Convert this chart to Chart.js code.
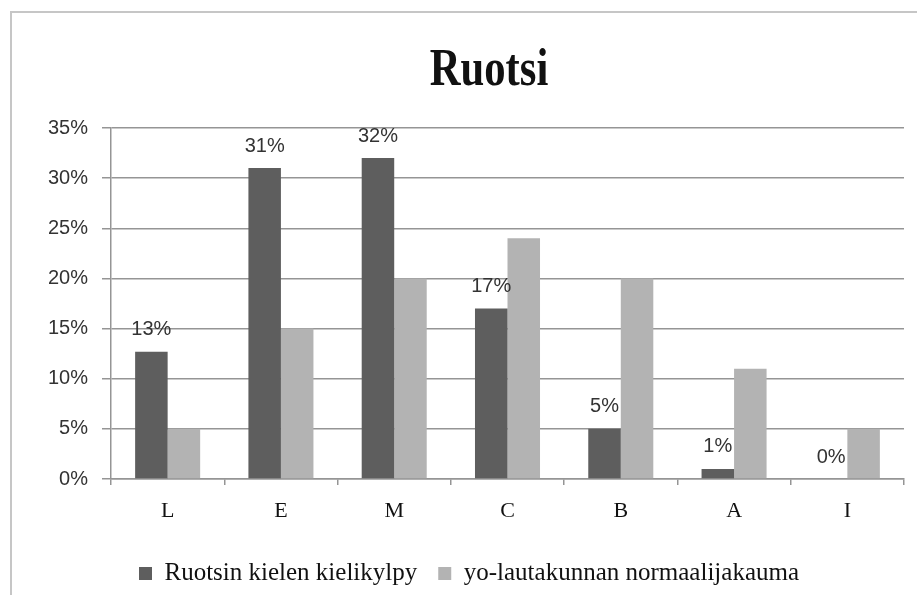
<!DOCTYPE html>
<html>
<head>
<meta charset="utf-8">
<title>Ruotsi</title>
<script src="https://cdn.jsdelivr.net/npm/chart.js@4.4.1/dist/chart.umd.min.js"></script>
<style>
  html, body { margin: 0; padding: 0; background: #fff; overflow: hidden; }
  #frame {
    position: absolute; left: 10px; top: 11px; width: 1000px; height: 700px;
    border-left: 2px solid #c6c6c6; border-top: 2px solid #c6c6c6;
  }
  #wrap { position: absolute; left: 0; top: 0; width: 914px; height: 610px; }
</style>
</head>
<body>
<div id="frame"><div id="wrap"><canvas id="chart"></canvas></div></div>
<script>
const chartTitle = 'Ruotsi';
const grades = ['L', 'E', 'M', 'C', 'B', 'A', 'I'];
const seriesNames = ['Ruotsin kielen kielikylpy', 'yo-lautakunnan normaalijakauma'];
const immersionPct = [12.7, 31, 32, 17, 5, 1, 0];
const boardPct = [5, 15, 20, 24, 20, 11, 5];
const yTicks = [0, 5, 10, 15, 20, 25, 30, 35];

const darkGrey = '#5e5e5e';
const lightGrey = '#b3b3b3';
const lineGrey = '#959595';

// title in a narrow bold serif, squeezed horizontally
const titlePlugin = {
  id: 'narrowTitle',
  afterDraw(chart) {
    const ctx = chart.ctx;
    ctx.save();
    ctx.font = 'bold 52px "Liberation Serif"';
    ctx.fillStyle = '#111';
    ctx.textAlign = 'center';
    ctx.textBaseline = 'alphabetic';
    ctx.translate(477, 72);
    ctx.scale(0.82, 1);
    ctx.fillText(chartTitle, 0, 0);
    ctx.restore();
  }
};

// percentage labels above the first series' bars
const valueLabels = {
  id: 'valueLabels',
  afterDatasetsDraw(chart) {
    const ctx = chart.ctx;
    const meta = chart.getDatasetMeta(0);
    ctx.save();
    ctx.font = '20px "Liberation Sans"';
    ctx.fillStyle = '#333';
    ctx.textAlign = 'center';
    ctx.textBaseline = 'middle';
    meta.data.forEach((bar, i) => {
      ctx.fillText(Math.round(immersionPct[i]) + '%', bar.x, bar.y - 22);
    });
    ctx.restore();
  }
};

new Chart(document.getElementById('chart'), {
  type: 'bar',
  data: {
    labels: grades,
    datasets: [
      { label: seriesNames[0], data: immersionPct, backgroundColor: darkGrey },
      { label: seriesNames[1], data: boardPct, backgroundColor: lightGrey }
    ]
  },
  options: {
    responsive: true,
    maintainAspectRatio: false,
    animation: false,
    layout: { padding: { top: 115, right: 22, bottom: 27, left: 22 } },
    datasets: { bar: { categoryPercentage: 0.574, barPercentage: 1 } },
    plugins: {
      title: { display: false },
      tooltip: { enabled: false },
      legend: {
        position: 'bottom',
        labels: {
          boxWidth: 13, boxHeight: 13, padding: 21,
          color: '#111',
          font: { family: '"Liberation Serif"', size: 25 }
        }
      }
    },
    scales: {
      x: {
        afterFit: s => { s.height = 61; },
        grid: { offset: true, drawOnChartArea: false, drawTicks: true, tickLength: 6, color: lineGrey, lineWidth: 1.5 },
        border: { color: lineGrey, width: 1.5 },
        ticks: { color: '#111', padding: 13, font: { family: '"Liberation Serif"', size: 22 } }
      },
      y: {
        min: 0, max: 35,
        afterFit: s => { s.width = 77; },
        afterBuildTicks: s => { s.ticks = yTicks.map(v => ({ value: v })); },
        grid: { color: lineGrey, lineWidth: 1.5, tickLength: 9 },
        border: { color: lineGrey, width: 1.5 },
        ticks: { color: '#333', padding: 14, font: { family: '"Liberation Sans"', size: 20 }, callback: v => v + '%' }
      }
    }
  },
  plugins: [titlePlugin, valueLabels]
});
</script>
</body>
</html>
